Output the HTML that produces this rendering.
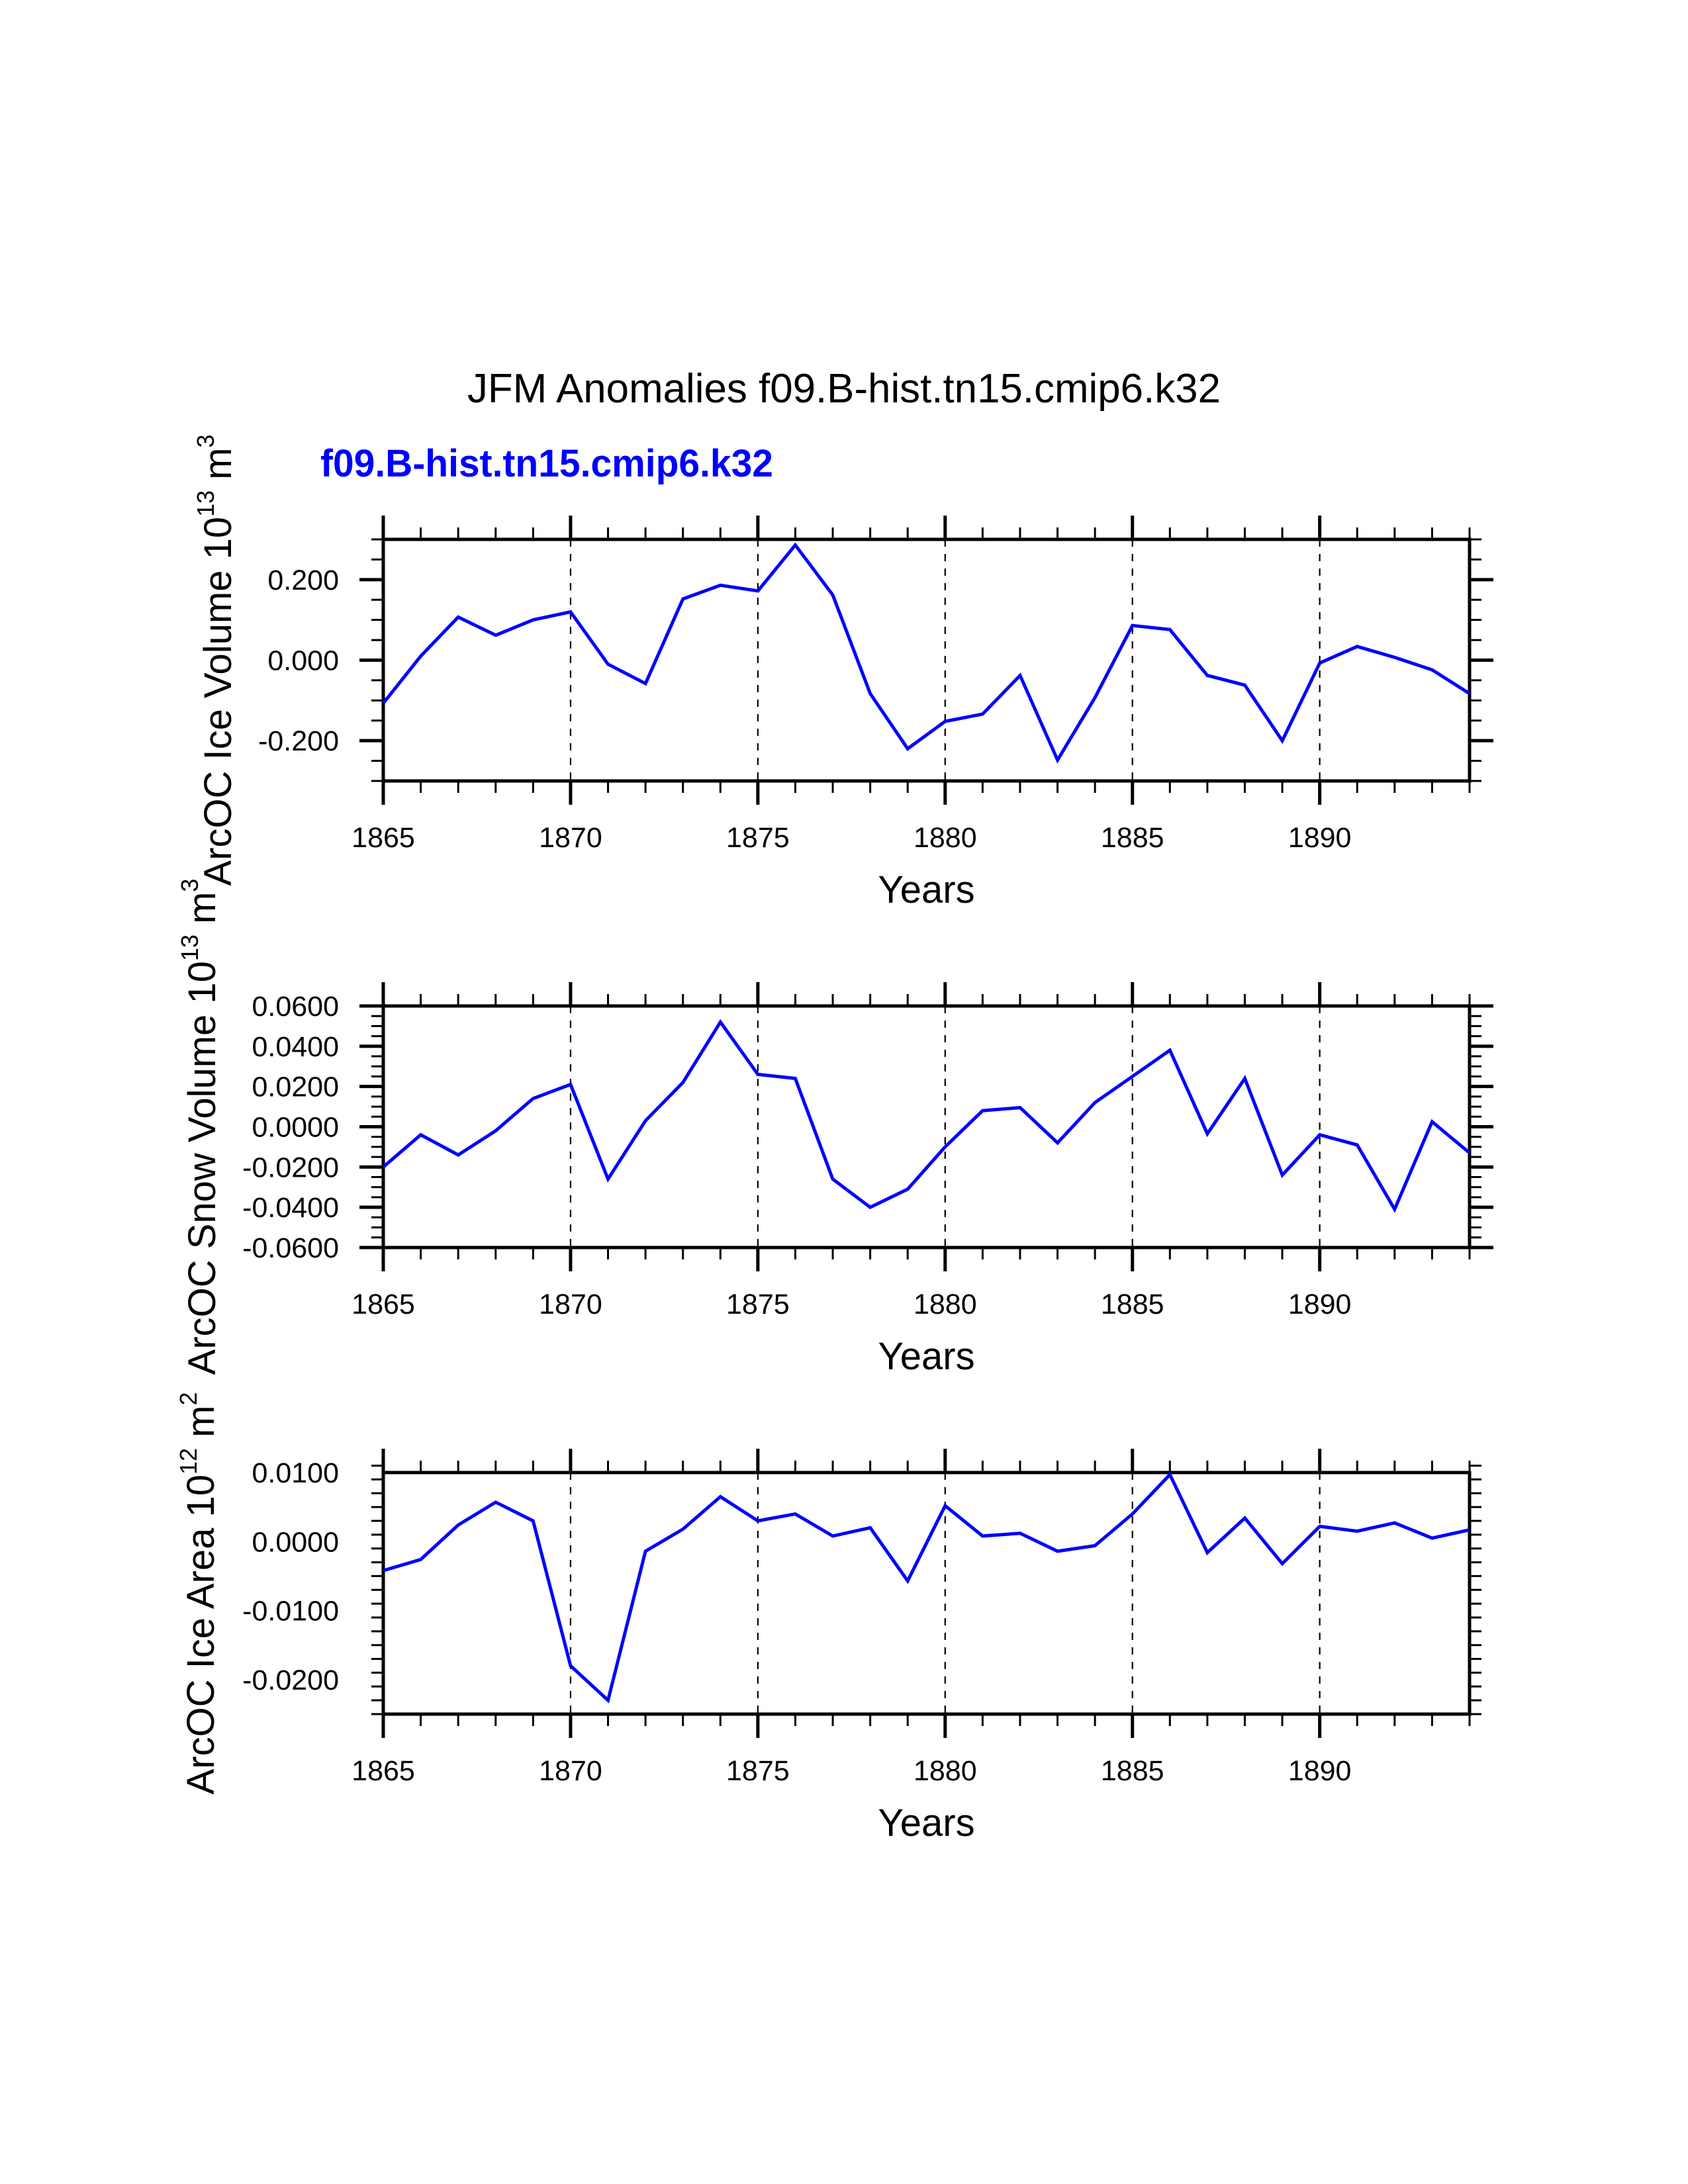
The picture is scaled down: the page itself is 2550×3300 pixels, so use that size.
<!DOCTYPE html>
<html><head><meta charset="utf-8"><style>
html,body{margin:0;padding:0;background:#fff;}
svg{display:block;font-family:"Liberation Sans",Arial,sans-serif;}
</style></head><body>
<svg id="chart" width="2550" height="3300" viewBox="0 0 2550 3300" xmlns="http://www.w3.org/2000/svg">
<rect width="2550" height="3300" fill="#fff"/>
<text x="1275" y="608" font-size="62" text-anchor="middle" textLength="1138" lengthAdjust="spacingAndGlyphs">JFM Anomalies f09.B-hist.tn15.cmip6.k32</text>
<text x="484" y="720" font-size="58" font-weight="bold" fill="#0000ff" textLength="684" lengthAdjust="spacingAndGlyphs">f09.B-hist.tn15.cmip6.k32</text>
<g id="plots"></g>
</svg>
<script>
const years = [1865,1866,1867,1868,1869,1870,1871,1872,1873,1874,1875,1876,1877,1878,1879,1880,1881,1882,1883,1884,1885,1886,1887,1888,1889,1890,1891,1892,1893,1894];
const iceVolume = [-0.107,0.01,0.107,0.062,0.1,0.12,-0.01,-0.058,0.152,0.186,0.172,0.286,0.162,-0.083,-0.22,-0.152,-0.134,-0.038,-0.248,-0.093,0.086,0.076,-0.038,-0.062,-0.2,-0.007,0.034,0.007,-0.024,-0.083];
const snowVolume = [-0.02,-0.004,-0.014,-0.002,0.014,0.021,-0.026,0.003,0.022,0.052,0.026,0.024,-0.026,-0.04,-0.031,-0.01,0.008,0.0095,-0.008,0.012,0.025,0.038,-0.0035,0.024,-0.024,-0.004,-0.009,-0.041,0.0025,-0.013];
const iceArea = [-0.0042,-0.0026,0.0024,0.0057,0.003,-0.018,-0.023,-0.0014,0.0018,0.0065,0.003,0.004,0.0008,0.002,-0.0057,0.0052,0.0008,0.0012,-0.0014,-0.0006,0.004,0.0097,-0.0016,0.0034,-0.0032,0.0022,0.0015,0.0027,0.0005,0.0017];
const xTickLabels = ["1865","1870","1875","1880","1885","1890"];
const volTickLabels = ["0.200","0.000","-0.200"];
const snowTickLabels = ["0.0600","0.0400","0.0200","0.0000","-0.0200","-0.0400","-0.0600"];
const areaTickLabels = ["0.0100","0.0000","-0.0100","-0.0200"];

const NS="http://www.w3.org/2000/svg";
const root=document.getElementById('plots');
function mk(tag,attrs,parent){const e=document.createElementNS(NS,tag);for(const k in attrs)e.setAttribute(k,attrs[k]);(parent||root).appendChild(e);return e;}

const X0=579,X1=2220,PH=365;
function xs(yr){return X0+(yr-1865)*(X1-X0)/(1894-1865);}

const panels=[
 {name:'ice-volume',top:815,ymin:-0.3,ymax:0.3,major:0.2,minor:0.05,labels:volTickLabels,vals:iceVolume,title:['ArcOC Ice Volume 10','13',' m','3'],tx:349},
 {name:'snow-volume',top:1520,ymin:-0.06,ymax:0.06,major:0.02,minor:0.005,labels:snowTickLabels,vals:snowVolume,title:['ArcOC Snow Volume 10','13',' m','3'],tx:325},
 {name:'ice-area',top:2225,ymin:-0.025,ymax:0.01,major:0.01,minor:0.002,labels:areaTickLabels,vals:iceArea,title:['ArcOC Ice Area 10','12',' m','2'],tx:323}
];

panels.forEach(p=>{
 const g=mk('g',{});
 
 
 const top=p.top,bot=p.top+PH;
 const ys=v=>bot-(v-p.ymin)/(p.ymax-p.ymin)*PH;
 // dashed grid at major years
 for(let yr=1870;yr<=1890;yr+=5){
  const l=mk('line',{x1:xs(yr),x2:xs(yr),y1:top,y2:bot,stroke:'#000','stroke-width':2.2,'stroke-dasharray':'11,11'},g);
  
  
 }
 // x ticks
 years.forEach(yr=>{
  const maj=(yr-1865)%5===0;
  const len=maj?36:18, w=maj?5:3;
  mk('line',{x1:xs(yr),x2:xs(yr),y1:top,y2:top-len,stroke:'#000','stroke-width':w},g);
  mk('line',{x1:xs(yr),x2:xs(yr),y1:bot,y2:bot+len,stroke:'#000','stroke-width':w},g);
 });
 xTickLabels.forEach(lab=>{
  const t=mk('text',{x:xs(+lab),y:bot+100,'font-size':43,'text-anchor':'middle'},g);
  
  
  t.textContent=lab;
 });
 // y ticks
 const nMin=Math.round((p.ymax-p.ymin)/p.minor);
 for(let i=0;i<=nMin;i++){
  const v=p.ymin+i*p.minor;
  const r=v/p.major; const maj=Math.abs(r-Math.round(r))<1e-6;
  const len=maj?36:18,w=maj?5:3,y=ys(v);
  mk('line',{x1:X0,x2:X0-len,y1:y,y2:y,stroke:'#000','stroke-width':w},g);
  mk('line',{x1:X1,x2:X1+len,y1:y,y2:y,stroke:'#000','stroke-width':w},g);
 }
 p.labels.forEach(lab=>{
  const t=mk('text',{x:512,y:ys(parseFloat(lab))+15,'font-size':43,'text-anchor':'end'},g);
  
  
  t.textContent=lab;
 });
 // frame
 const fr=mk('rect',{x:X0,y:top,width:X1-X0,height:PH,fill:'none',stroke:'#000','stroke-width':5},g);
 
 
 // line
 const pts=p.vals.map((v,i)=>xs(years[i]).toFixed(1)+','+ys(v).toFixed(1)).join(' ');
 const pl=mk('polyline',{points:pts,fill:'none',stroke:'#0000ff','stroke-width':5,'stroke-linejoin':'miter'},g);
 
 
 // x title
 const xt=mk('text',{x:(X0+X1)/2,y:bot+184,'font-size':58,'text-anchor':'middle'},g);
 
 
 xt.textContent='Years';
 // y title
 const cy=top+PH/2;
 const yt=mk('text',{x:0,y:0,'font-size':58,'text-anchor':'middle',transform:'translate('+p.tx+','+cy+') rotate(-90)'},g);
 
 
 const parts=p.title;
 [[parts[0],0,58],[parts[1],-26,36],[parts[2],26,58],[parts[3],-26,36]].forEach(a=>{
  const ts=mk('tspan',{dy:a[1],'font-size':a[2]},yt);
  ts.textContent=a[0];
 });
});
</script>
</body></html>
